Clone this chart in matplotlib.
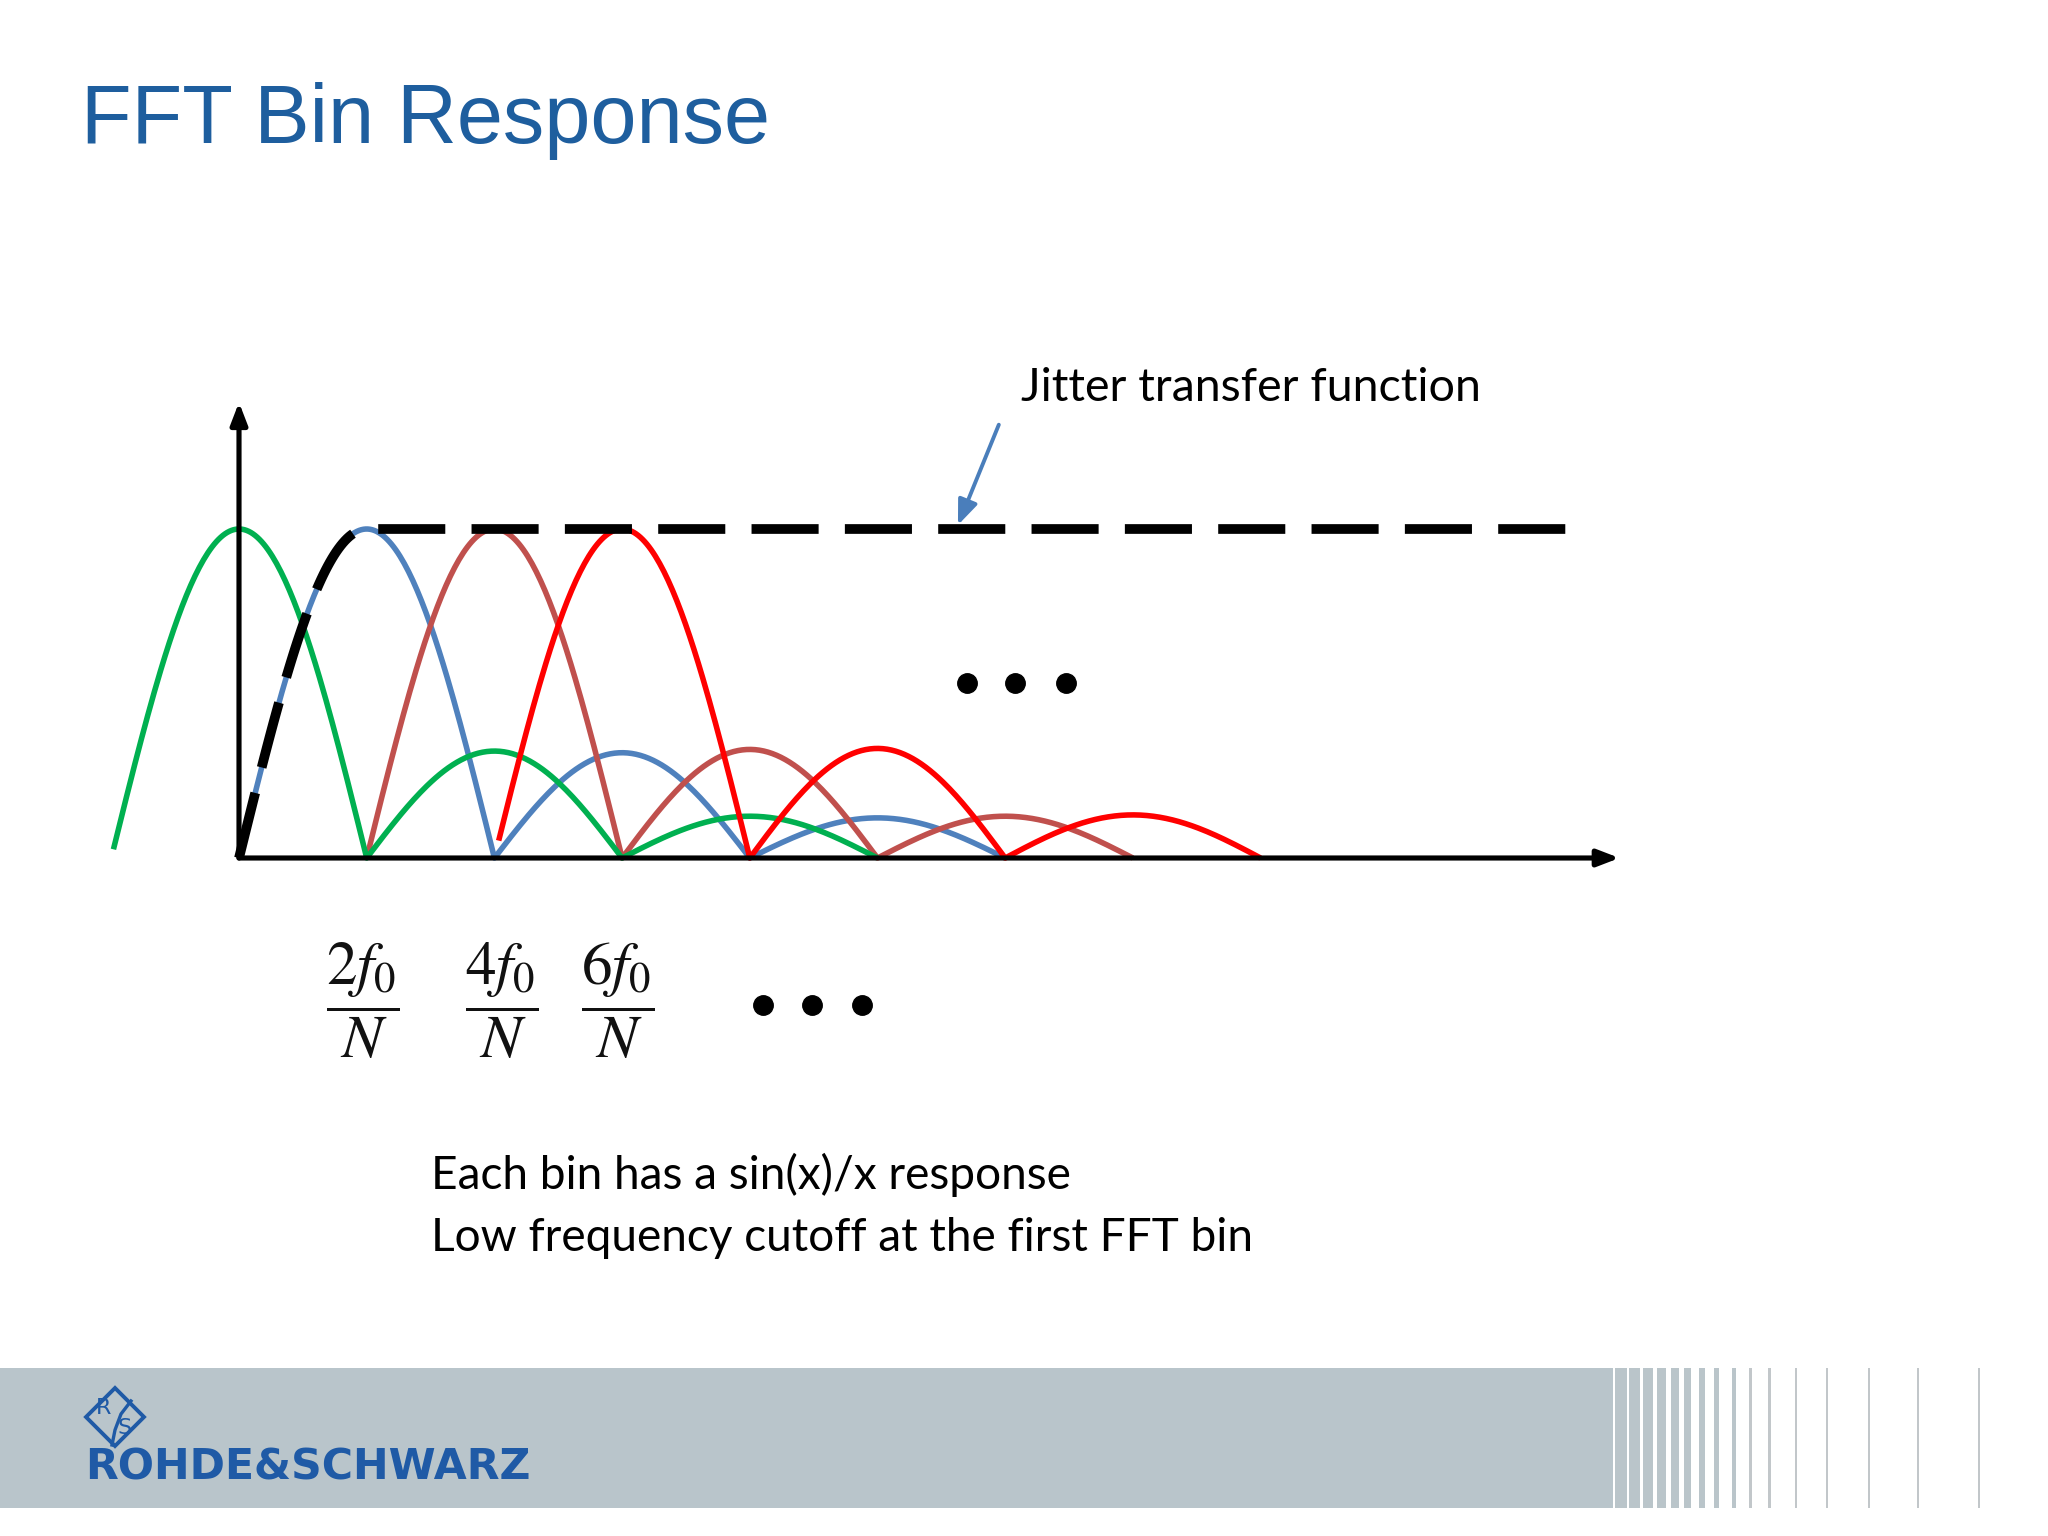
import numpy as np
import matplotlib
matplotlib.use('Agg')
import matplotlib.pyplot as plt
from matplotlib import font_manager
from matplotlib.patches import Rectangle, Polygon
from matplotlib.lines import Line2D
import matplotlib.transforms as mtransforms

# ---------------- data ----------------
# each FFT-bin response: lobe boundaries (zeros, bin units) and lobe peak heights
green_zeros = [-1, 1, 3, 5]
green_peaks = [1.0, 0.325, 0.127]
green_start = -0.99
blue_zeros = [0, 2, 4, 6]
blue_peaks = [1.0, 0.32, 0.122]
blue_start = 0.0
brown_zeros = [1, 3, 5, 7]
brown_peaks = [1.0, 0.33, 0.127]
brown_start = 1.0
red_zeros = [2, 4, 6, 8]
red_peaks = [1.0, 0.333, 0.131]
red_start = 2.03

# jitter transfer function envelope
jtf_level = 1.0
jtf_end = 10.4

freq_labels = [r'$\dfrac{2f_0}{N}$', r'$\dfrac{4f_0}{N}$', r'$\dfrac{6f_0}{N}$']
title_text = 'FFT Bin Response'
annotation_text = 'Jitter transfer function'
notes = ['Each bin has a sin(x)/x response',
         'Low frequency cutoff at the first FFT bin']
logo_text = 'ROHDE&SCHWARZ'

# ---------------- layout ----------------
W, H = 2048, 1536
fig = plt.figure(figsize=(W / 100, H / 100), dpi=100)
fig.patch.set_facecolor('white')

ox, oy = 239.0, 858.0        # origin in px (y from top)
bin_px, unit_px = 127.7, 329.0
xlim = (-1.5, 11.5)
ylim = (-0.7, 1.6)
ax = fig.add_axes([(ox + xlim[0] * bin_px) / W,
                   (H - (oy - ylim[0] * unit_px)) / H,
                   (xlim[1] - xlim[0]) * bin_px / W,
                   (ylim[1] - ylim[0]) * unit_px / H])
ax.set_xlim(*xlim)
ax.set_ylim(*ylim)
ax.axis('off')


def available(name):
    try:
        font_manager.findfont(font_manager.FontProperties(family=name),
                              fallback_to_default=False)
        return True
    except Exception:
        return False


title_font = 'Liberation Sans Narrow' if available('Liberation Sans Narrow') else 'Liberation Sans'
body_font = 'Lato' if available('Lato') else 'DejaVu Sans'
plt.rcParams['mathtext.fontset'] = 'stix'

GREEN, BLUE, BROWN, RED = '#00B050', '#4F81BD', '#C0504D', '#FF0000'


def lobes(zeros, peaks, start, n=120):
    xs, ys = [], []
    for a, b, p in zip(zeros[:-1], zeros[1:], peaks):
        x = np.linspace(a, b, n)
        xs.append(x)
        ys.append(p * np.sin(np.pi * (x - a) / (b - a)))
    x = np.concatenate(xs)
    y = np.concatenate(ys)
    m = x >= start
    return x[m], y[m]


curves = [(blue_zeros, blue_peaks, blue_start, BLUE, 2),
          (brown_zeros, brown_peaks, brown_start, BROWN, 3),
          (green_zeros, green_peaks, green_start, GREEN, 4),
          (red_zeros, red_peaks, red_start, RED, 5)]
for z, p, s, c, zo in curves:
    x, y = lobes(z, p, s)
    ax.plot(x, y, color=c, lw=4.0, zorder=zo, solid_joinstyle='round',
            solid_capstyle='butt', clip_on=False)

# jitter transfer function: follows rising edge of first bin, then flat
xr = np.linspace(blue_zeros[0], blue_zeros[0] + 1, 60)
yr = blue_peaks[0] * np.sin(np.pi * (xr - blue_zeros[0]) / (blue_zeros[1] - blue_zeros[0]))
jx = np.concatenate([xr, [jtf_end]])
jy = np.concatenate([yr * jtf_level, [jtf_level]])
ax.plot(jx, jy, color='black', lw=7.0, dashes=(6.9, 2.7), dash_capstyle='butt',
        zorder=6, clip_on=False)

# axes with arrows
for end in [(10.81, 0), (0, 1.385)]:
    ax.annotate('', xy=end, xytext=(0, 0),
                arrowprops=dict(arrowstyle='-|>,head_length=0.65,head_width=0.25',
                                color='black', lw=3.7, mutation_scale=20,
                                shrinkA=0, shrinkB=0), zorder=7)

# ellipses
ax.plot([5.70, 6.08, 6.48], [0.532] * 3, 'o', color='black', ms=14, zorder=6)
ax.plot([4.10, 4.49, 4.88], [-0.448] * 3, 'o', color='black', ms=14, zorder=6)

# frequency labels
for lab, xv in zip(freq_labels, [0.97, 2.06, 2.97]):
    ax.text(xv, -0.435, lab, ha='center', va='center', fontsize=44,
            color='#111111', zorder=6)

# pointer arrow
ax.annotate('', xy=(5.63, 1.012), xytext=(5.95, 1.317),
            arrowprops=dict(arrowstyle='-|>,head_length=0.75,head_width=0.3',
                            color='#4A7EBB', lw=2.8, mutation_scale=20,
                            shrinkA=0, shrinkB=0), zorder=7)

# ---------------- texts ----------------
t_title = fig.text(81 / W, 1 - 143 / H, title_text, fontsize=69, color='#1E5E9E',
                   family=title_font, ha='left', va='baseline')
t_ann = fig.text(1021 / W, 1 - 401 / H, annotation_text, fontsize=34,
                 color='black', family=body_font, ha='left', va='baseline')
t_n1 = fig.text(431 / W, 1 - 1189 / H, notes[0], fontsize=34, color='black',
                family=body_font, ha='left', va='baseline')
t_n2 = fig.text(431 / W, 1 - 1251 / H, notes[1], fontsize=34, color='black',
                family=body_font, ha='left', va='baseline')

# ---------------- footer ----------------
px = mtransforms.Affine2D().scale(1 / W, 1 / H) + fig.transFigure
band_top, band_bot = 1368, 1508
fig.patches.append(Rectangle((0, H - band_bot), 1613, band_bot - band_top,
                             transform=px, facecolor='#B9C5CB', edgecolor='none'))
stripes = [(1615, 1627), (1629, 1640), (1643, 1653), (1657, 1666), (1671, 1679),
           (1684, 1691), (1699, 1705), (1714, 1719), (1732, 1736), (1749, 1751.5),
           (1768, 1771), (1795, 1797), (1826, 1828), (1868, 1869.5),
           (1917, 1918.5), (1978, 1979.5)]
for i, (a, b) in enumerate(stripes):
    col = '#BAC5CA' if i < 9 else '#C2C7CA'
    fig.patches.append(Rectangle((a, H - band_bot), b - a, band_bot - band_top,
                                 transform=px, facecolor=col, edgecolor='none'))

LOGO = '#1F5AA6'
cx, cy, r = 115, 1417, 29
fig.patches.append(Polygon([(cx, H - (cy - r)), (cx + r, H - cy), (cx, H - (cy + r)),
                            (cx - r, H - cy)], closed=True, transform=px,
                           facecolor='none', edgecolor=LOGO, lw=2.8))
fig.text(104 / W, 1 - 1408 / H, 'R', fontsize=16,
         color=LOGO, ha='center', va='center', family='DejaVu Sans')
fig.text(125 / W, 1 - 1428 / H, 'S', fontsize=16,
         color=LOGO, ha='center', va='center', family='DejaVu Sans')
fig.lines.append(Line2D([131, 121, 115, 112], [H - 1401, H - 1414, H - 1430, H - 1445],
                        transform=px, color=LOGO, lw=2.4))
t_logo = fig.text(85 / W, 1 - 1479 / H, logo_text, fontsize=31, color=LOGO,
                  family='DejaVu Sans', fontweight='bold', ha='left', va='baseline')

# ---------------- fit text widths ----------------
fig.canvas.draw()
renderer = fig.canvas.get_renderer()


def fit(t, target):
    bb = t.get_window_extent(renderer)
    t.set_fontsize(t.get_fontsize() * target / bb.width)


fit(t_title, 690 if title_font == 'Liberation Sans' else 657)
fit(t_ann, 462)
fit(t_n2, 825)
t_n1.set_fontsize(t_n2.get_fontsize())
fit(t_logo, 446)

fig.savefig('out.png', dpi=100, facecolor='white')
